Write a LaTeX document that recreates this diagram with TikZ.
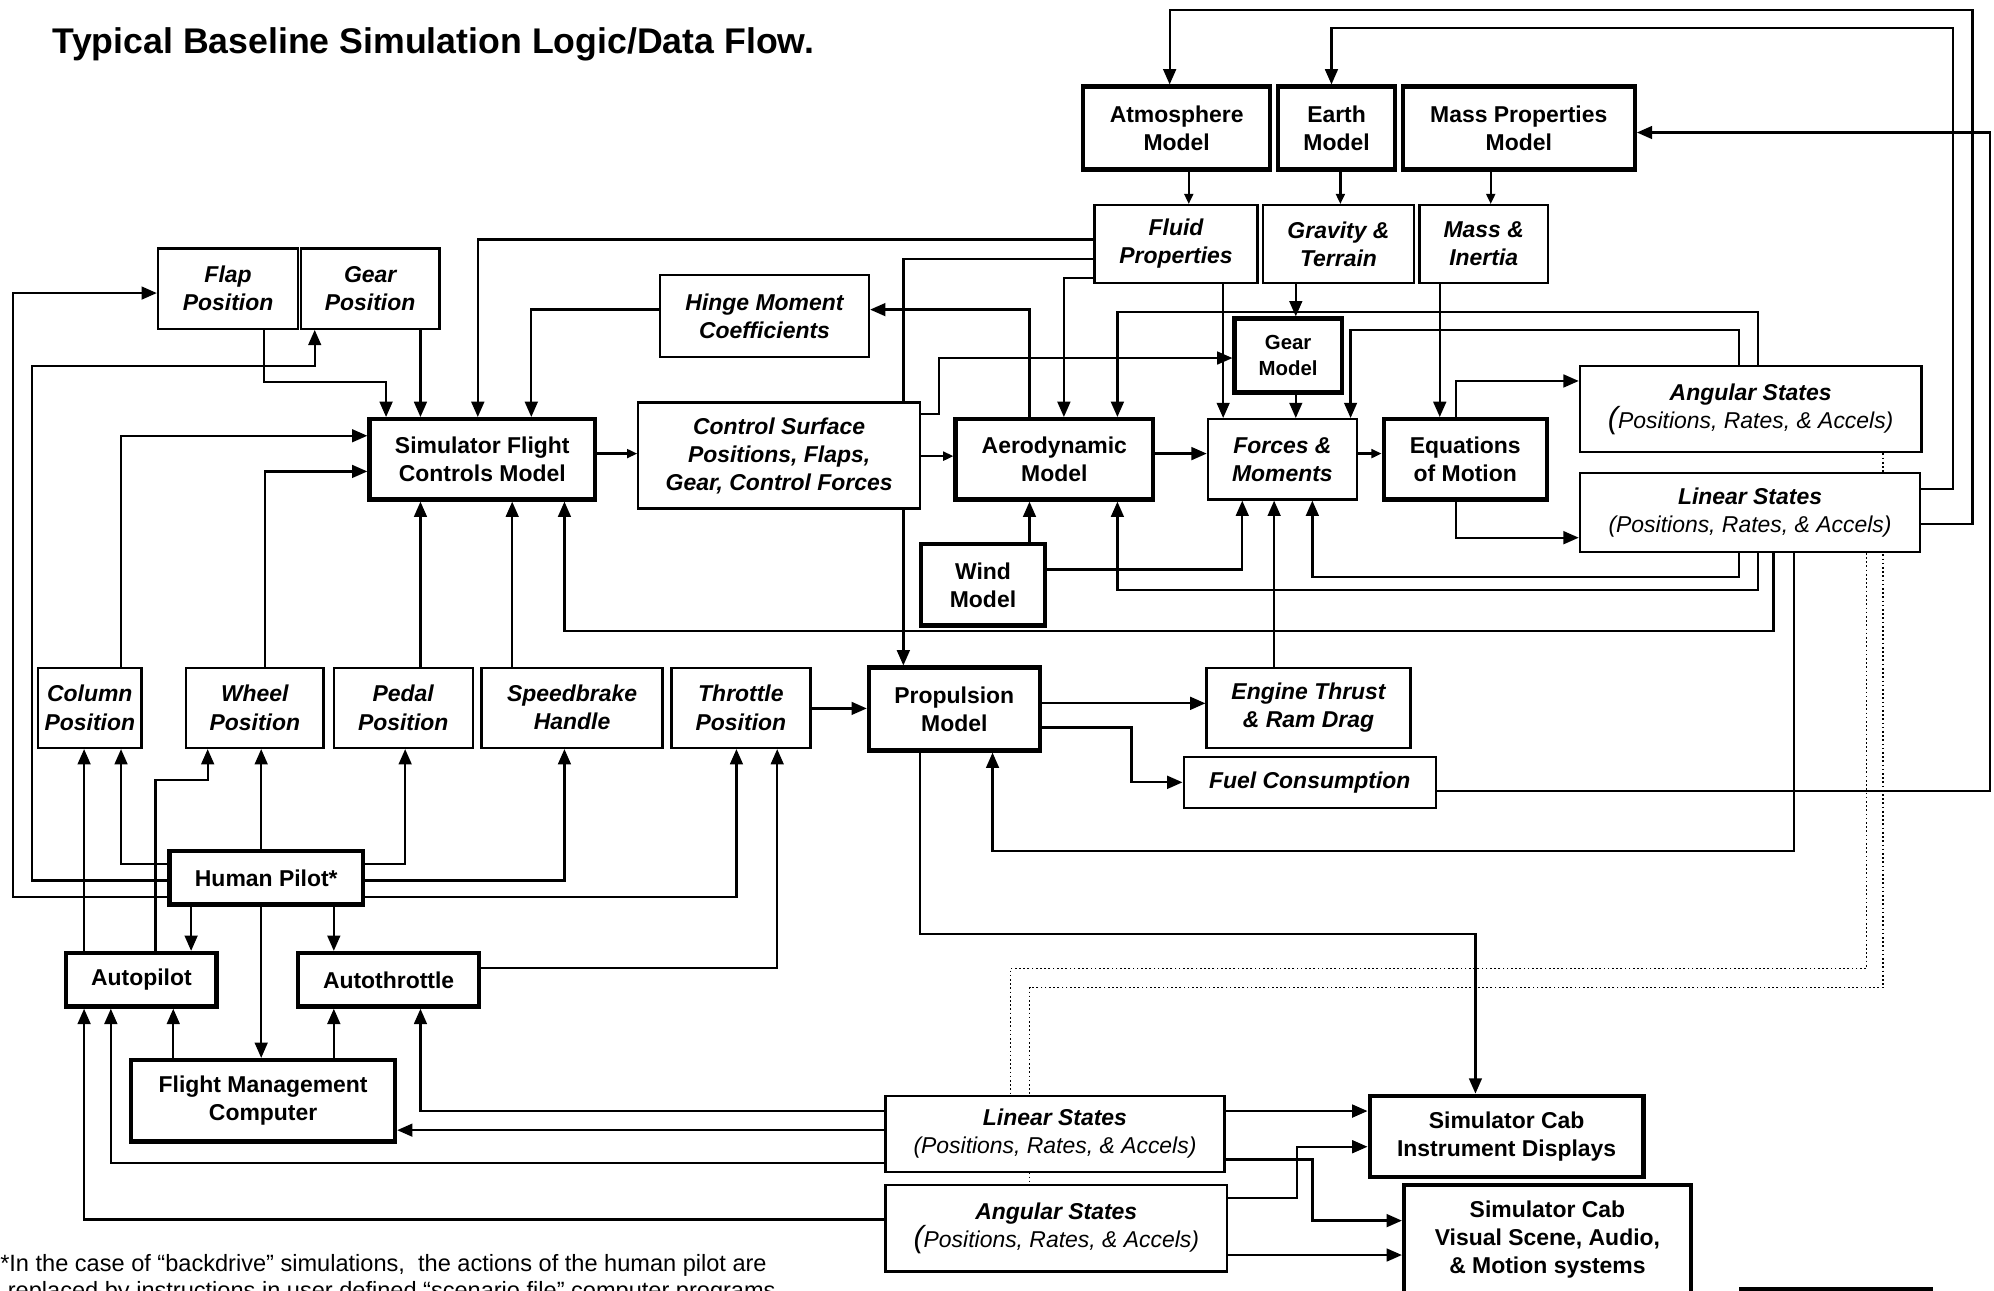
\documentclass[tikz,border=0pt]{standalone}
\usepackage{fontspec}
\setmainfont{Liberation Sans}
\usetikzlibrary{arrows.meta}
\usetikzlibrary{calc}
\pgfdeclarelayer{bg}
\pgfsetlayers{bg,main}
\newcommand{\boxfont}{\fontsize{18}{22}\selectfont}
\newcommand{\gearfont}{\fontsize{16}{20}\selectfont}
\newcommand{\titlefont}{\fontsize{28}{32}\selectfont}
\newcommand{\notefont}{\fontsize{18.5}{21}\selectfont}
\newcommand{\openpar}{{\fontsize{24}{22}\selectfont(}}

\begin{document}
\begin{tikzpicture}[x=1pt,y=-1pt,line join=miter
  ,thk/.style={draw,line width=3.4pt,fill=white,inner sep=0pt,align=center,font=\boxfont\bfseries}
  ,thn/.style={draw,line width=1.8pt,fill=white,inner sep=0pt,align=center,font=\boxfont\bfseries\itshape}
  ,ltrb/.style n args={4}{minimum width={#3-#1},minimum height={#4-#2},at={({(#1+#3)/2},{(#2+#4)/2})}}
  ,wire/.style={line width=1.8pt,-{Triangle[length=12pt,width=10pt]}}
  ,swire/.style={line width=1.8pt,-{Triangle[length=8pt,width=7pt]}}
  ,dots/.style={line width=1.3pt,dotted}]
\useasboundingbox (0,0) rectangle (1565,1012.5);
\node[anchor=base west,font=\titlefont\bfseries] (title) at (38,42)
  {Typical Baseline Simulation Logic/Data Flow.};
% models and properties
\node[thk,ltrb={850}{68}{997}{133}] (atm) {Atmosphere\\Model};
\node[thk,ltrb={1003}{68}{1095}{133}] (earth) {Earth\\Model};
\node[thk,ltrb={1101}{68}{1283}{133}] (mprop) {Mass Properties\\Model};
\node[thn,ltrb={859}{161}{987}{222}] (fluid) {Fluid\\Properties};
\node[thn,ltrb={991}{161}{1110}{222}] (grav) {Gravity \&\\Terrain};
\node[thn,ltrb={1114}{161}{1215}{222}] (mi) {Mass \&\\Inertia};
\node[thn,ltrb={124}{195}{234}{258}] (flap) {Flap\\Position};
\node[thn,ltrb={236}{195}{345}{258}] (gpos) {Gear\\Position};
\node[thn,ltrb={518}{216}{682}{280}] (hinge) {Hinge Moment\\Coefficients};
\node[thk,ltrb={969}{250}{1053}{308},font=\gearfont\bfseries] (gear) {Gear\\Model};
\node[thk,ltrb={290}{329}{467}{392}] (sfcm) {Simulator Flight\\Controls Model};
\node[thn,ltrb={501}{316}{722}{399}] (cs) {Control Surface\\Positions, Flaps,\\Gear, Control Forces};
\node[thk,ltrb={750}{329}{905}{392}] (aero) {Aerodynamic\\Model};
\node[thn,ltrb={948}{329}{1065}{392}] (fm) {Forces \&\\Moments};
\node[thk,ltrb={1086}{329}{1214}{392}] (eom) {Equations\\of Motion};
\node[thn,ltrb={1240}{287}{1508}{355}] (angU) {Angular States\\{\mdseries\openpar Positions, Rates, \& Accels)}};
\node[thn,ltrb={1240}{371}{1507}{433}] (linU) {Linear States\\{\mdseries(Positions, Rates, \& Accels)}};
\node[thk,ltrb={723}{427}{820}{491}] (wind) {Wind\\Model};
% pilot controls
\node[thn,ltrb={30}{524}{111}{587}] (col) {Column\\Position};
\node[thn,ltrb={146}{524}{254}{587}] (whl) {Wheel\\Position};
\node[thn,ltrb={262}{524}{371}{587}] (ped) {Pedal\\Position};
\node[thn,ltrb={378}{524}{520}{587}] (spd) {Speedbrake\\Handle};
\node[thn,ltrb={527}{524}{636}{587}] (thr) {Throttle\\Position};
\node[thk,ltrb={682}{524}{816}{589}] (prop) {Propulsion\\Model};
\node[thn,ltrb={947}{524}{1107}{587}] (eng) {Engine Thrust\\\& Ram Drag};
\node[thn,ltrb={929}{594}{1127}{634}] (fuel) {Fuel Consumption};
\node[thk,ltrb={133}{668}{285}{710}] (hp) {Human Pilot*};
\node[thk,ltrb={52}{748}{170}{790}] (ap) {Autopilot};
\node[thk,ltrb={234}{748}{376}{790}] (at) {Autothrottle};
\node[thk,ltrb={103}{832}{310}{896}] (fmc) {Flight Management\\Computer};
% cab outputs
\node[thn,ltrb={695}{860}{961}{920}] (linL) {Linear States\\{\mdseries(Positions, Rates, \& Accels)}};
\node[thn,ltrb={695}{930}{963}{998}] (angL) {Angular States\\{\mdseries\openpar Positions, Rates, \& Accels)}};
\node[thk,ltrb={1075}{860}{1290}{924}] (cab1) {Simulator Cab\\Instrument Displays};
\node[thk,ltrb={1102}{930}{1327}{1016}] (cab2) {Simulator Cab\\Visual Scene, Audio,\\\& Motion systems};
\node[anchor=base west,align=left,font=\notefont,inner sep=0pt] (note) at (0,1019)
  {*In the case of “backdrive” simulations,\ \ the actions of the human pilot are\\
   \hspace{6pt}replaced by instructions in user defined “scenario file” computer programs.};
\draw[line width=3.4pt] (1365,1011.5) -- (1517,1011.5);

\begin{pgfonlayer}{bg}
% models down to properties
\draw[swire] (933,0 |- atm.south) -- (933,0 |- fluid.north);
\draw[swire] (1052,0 |- earth.south) -- (1052,0 |- grav.north);
\draw[swire] (1170,0 |- mprop.south) -- (1170,0 |- mi.north);
\draw[wire] (fluid.west |- 0,188) -| (375,0 |- sfcm.north);
\draw[wire] (fluid.west |- 0,203) -| (709,0 |- prop.north);
\draw[wire] (fluid.west |- 0,218) -| (835,0 |- aero.north);
\draw[wire] (960,0 |- fluid.south) -- (960,0 |- fm.north);
\draw[wire] (1017,0 |- grav.south) -- (1017,0 |- gear.north);
\draw[wire] (1017,0 |- gear.south) -- (1017,0 |- fm.north);
\draw[wire] (cs.east |- 0,325) -| (737,281) -- (gear.west |- 0,281);
\draw[wire] (808,0 |- aero.north) |- (hinge.east |- 0,243);
\draw[wire] (hinge.west |- 0,243) -| (417,0 |- sfcm.north);
\draw[wire] (808,0 |- wind.north) -- (808,0 |- aero.south);
\draw[wire] (wind.east |- 0,447) -| (975,0 |- fm.south);
% states fed back
\draw[wire] (1380,0 |- angU.north) -- (1380,245) -| (877,0 |- aero.north);
\draw[wire] (1365,0 |- angU.north) -- (1365,259) -| (1060,0 |- fm.north);
\draw[wire] (1365,0 |- linU.south) -- (1365,453) -| (1030,0 |- fm.south);
\draw[wire] (1380,0 |- linU.south) -- (1380,463) -| (877,0 |- aero.south);
\draw[wire] (1392,0 |- linU.south) -- (1392,495) -| (443,0 |- sfcm.south);
\draw[wire] (1408,0 |- linU.south) -- (1408,668) -| (779,0 |- prop.south);
\draw[wire] (linU.east |- 0,384) -| (1533,22) -| (1045,0 |- earth.north);
\draw[wire] (linU.east |- 0,411) -| (1548,8) -| (918,0 |- atm.north);
\draw[wire] (fuel.east |- 0,621) -| (1562,104) -- (mprop.east |- 0,104);
% main chain
\draw[swire] (sfcm.east |- 0,356) -- (cs.west |- 0,356);
\draw[swire] (cs.east |- 0,358) -- (aero.west |- 0,358);
\draw[wire] (aero.east |- 0,356) -- (fm.west |- 0,356);
\draw[swire] (fm.east |- 0,356) -- (eom.west |- 0,356);
\draw[wire] (1130,0 |- mi.south) -- (1130,0 |- eom.north);
\draw[wire] (1143,0 |- eom.north) |- (angU.west |- 0,299);
\draw[wire] (1143,0 |- eom.south) |- (linU.west |- 0,422);
\draw[wire] (1000,0 |- eng.north) -- (1000,0 |- fm.south);
% controls into flight controls model
\draw[wire] (207,0 |- flap.south) |- (303,300) -- (303,0 |- sfcm.north);
\draw[wire] (330,0 |- gpos.south) -- (330,0 |- sfcm.north);
\draw[wire] (95,0 |- col.north) |- (sfcm.west |- 0,342);
\draw[wire] (208,0 |- whl.north) |- (sfcm.west |- 0,370);
\draw[wire] (330,0 |- ped.north) -- (330,0 |- sfcm.south);
\draw[wire] (402,0 |- spd.north) -- (402,0 |- sfcm.south);
\draw[wire] (thr.east |- 0,556) -- (prop.west |- 0,556);
\draw[wire] (prop.east |- 0,552) -- (eng.west |- 0,552);
\draw[wire] (prop.east |- 0,571) -| (888,614) -- (fuel.west |- 0,614);
\draw[wire] (722,0 |- prop.south) |- (1158,733) -- (1158,0 |- cab1.north);
% pilot, autopilot, autothrottle
\draw[wire] (205,0 |- hp.north) -- (205,0 |- whl.south);
\draw[wire] (hp.west |- 0,678) -| (95,0 |- col.south);
\draw[wire] (hp.east |- 0,678) -| (318,0 |- ped.south);
\draw[wire] (hp.west |- 0,691) -| (25,287) -| (247,0 |- gpos.south);
\draw[wire] (hp.west |- 0,704) -| (10,230) -- (flap.west |- 0,230);
\draw[wire] (hp.east |- 0,691) -| (443,0 |- spd.south);
\draw[wire] (hp.east |- 0,704) -| (578,0 |- thr.south);
\draw[wire] (150,0 |- hp.south) -- (150,0 |- ap.north);
\draw[wire] (205,0 |- hp.south) -- (205,0 |- fmc.north);
\draw[wire] (262,0 |- hp.south) -- (262,0 |- at.north);
\draw[wire] (66,0 |- ap.north) -- (66,0 |- col.south);
\draw[wire] (122,0 |- ap.north) |- (163,612) -- (163,0 |- whl.south);
\draw[wire] (at.east |- 0,760) -| (610,0 |- thr.south);
\draw[wire] (136,0 |- fmc.north) -- (136,0 |- ap.south);
\draw[wire] (262,0 |- fmc.north) -- (262,0 |- at.south);
% states to cab and autopilot
\draw[wire] (linL.west |- 0,872) -| (330,0 |- at.south);
\draw[wire] (linL.west |- 0,887) -- (fmc.east |- 0,887);
\draw[wire] (linL.west |- 0,913) -| (87,0 |- ap.south);
\draw[wire] (angL.west |- 0,957) -| (66,0 |- ap.south);
\draw[wire] (linL.east |- 0,872) -- (cab1.west |- 0,872);
\draw[wire] (linL.east |- 0,910) -| (1030,958) -- (cab2.west |- 0,958);
\draw[wire] (angL.east |- 0,940) -| (1018,900) -- (cab1.west |- 0,900);
\draw[wire] (angL.east |- 0,985) -- (cab2.west |- 0,985);
\draw[dots] (1465,0 |- linU.south) |- (793,760) -- (793,0 |- linL.north);
\draw[dots] (1478,0 |- angU.south) |- (808,775) -- (808,0 |- angL.north);
\end{pgfonlayer}
\end{tikzpicture}
\end{document}
